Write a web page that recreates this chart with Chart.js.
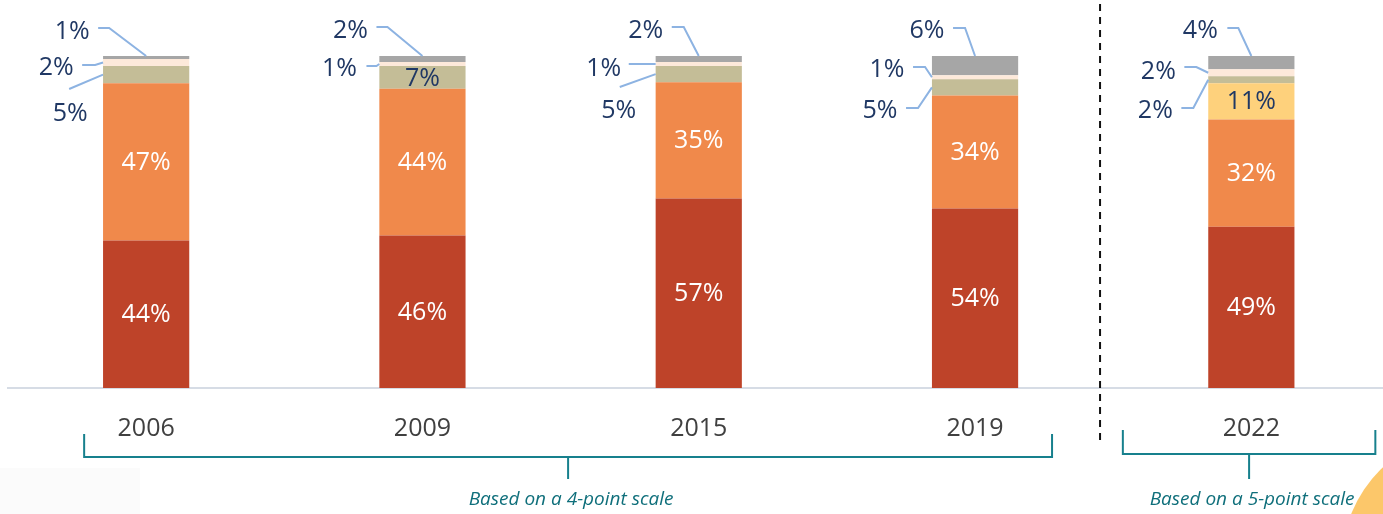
<!DOCTYPE html>
<html>
<head>
<meta charset="utf-8">
<script src="https://cdn.jsdelivr.net/npm/chart.js@4/dist/chart.umd.min.js"></script>
<style>
  html, body { margin: 0; padding: 0; background: #fff; overflow: hidden; }
  #wrap { width: 1392px; height: 514px; }
</style>
</head>
<body>
<div id="wrap"><canvas id="chart" width="1392" height="514"></canvas></div>
<script>
// survey waves
const years = ["2006", "2009", "2015", "2019", "2022"];

// shares per answer group, bottom of the bar to the top (percent)
const redShare = [44.4, 45.9, 57.1, 54.1, 48.6];
const orangeShare = [47.4, 44.2, 35.0, 34.0, 32.3];
const yellowShare = [null, null, null, null, 10.9];
const oliveShare = [5.2, 6.9, 4.9, 4.9, 2.1];
const creamShare = [2.1, 1.2, 1.2, 1.2, 2.1];
const grayShare = [0.9, 1.8, 1.8, 5.8, 4.0];

const FONT = "'Open Sans', 'Noto Sans', sans-serif";
const NAVY = "#203864";
const TEAL = "#17808d";
const LEADER = "#8db3e2";

// labels written inside the segments: [dataset, index or -1 for all, colour]
const insideLabels = [
  [0, -1, "#ffffff"],
  [1, -1, "#ffffff"],
  [2, 4, NAVY],
  [3, 1, NAVY]
];

// small segments labelled beside the bar with a leader line
// dx/dy: text centre from bar centre / bar top; sx/sy: line start from text centre; h: flat part
const callouts = [
  { ds: 5, i: 0, dx: -74, dy: -25, sx: 26, sy: -3, h: 11 },
  { ds: 4, i: 0, dx: -90, dy: 11, sx: 26, sy: -2, h: 13 },
  { ds: 3, i: 0, dx: -76, dy: 57, sx: -1, sy: -24, h: 0 },
  { ds: 5, i: 1, dx: -72, dy: -26, sx: 26, sy: -3, h: 11 },
  { ds: 4, i: 1, dx: -83, dy: 12, sx: 27, sy: -2, h: 10 },
  { ds: 5, i: 2, dx: -53, dy: -26, sx: 26, sy: -3, h: 12 },
  { ds: 4, i: 2, dx: -95, dy: 12, sx: 25, sy: -4, h: 0 },
  { ds: 3, i: 2, dx: -80, dy: 54, sx: 1, sy: -23, h: 0 },
  { ds: 5, i: 3, dx: -48, dy: -26, sx: 26, sy: -2, h: 12 },
  { ds: 4, i: 3, dx: -88, dy: 13, sx: 26, sy: -2, h: 12 },
  { ds: 3, i: 3, dx: -95, dy: 54, sx: 26, sy: -2, h: 12 },
  { ds: 5, i: 4, dx: -51, dy: -26, sx: 27, sy: -2, h: 11 },
  { ds: 4, i: 4, dx: -93, dy: 15, sx: 26, sy: -4, h: 12 },
  { ds: 3, i: 4, dx: -96, dy: 54, sx: 26, sy: -2, h: 12 }
];

const brackets = [
  { from: 0, to: 3, left: -62, right: 77, top: 434, bar: 457, tick: 479, text: "Based on a 4-point scale" },
  { from: 4, to: 4, left: -128.5, right: 124, top: 430, bar: 454, tick: 479, text: "Based on a 5-point scale" }
];

const pct = (v) => Math.round(v) + "%";

const annotate = {
  id: "annotate",
  beforeDraw(chart) {
    const ctx = chart.ctx;
    ctx.save();
    ctx.fillStyle = "#fbfbfb";
    ctx.fillRect(0, 468, 140, 46);
    ctx.fillStyle = "#fcc76a";
    ctx.beginPath();
    ctx.arc(1472, 562, 130, 0, Math.PI * 2);
    ctx.fill();
    ctx.restore();
  },
  afterDatasetsDraw(chart) {
    const ctx = chart.ctx;
    const top = chart.scales.y.getPixelForValue(100);
    const bar = (ds, i) => chart.getDatasetMeta(ds).data[i];
    ctx.save();
    ctx.font = "25px " + FONT;
    ctx.textAlign = "center";
    ctx.textBaseline = "middle";

    insideLabels.forEach(([ds, idx, color]) => {
      const values = chart.data.datasets[ds].data;
      values.forEach((v, i) => {
        if (v == null || (idx !== -1 && idx !== i)) return;
        const el = bar(ds, i);
        ctx.fillStyle = color;
        ctx.fillText(pct(v), el.x, (el.y + el.base) / 2 + 1);
      });
    });

    callouts.forEach((c) => {
      const el = bar(c.ds, c.i);
      const v = chart.data.datasets[c.ds].data[c.i];
      const tx = el.x + c.dx;
      const ty = top + c.dy;
      ctx.fillStyle = NAVY;
      ctx.fillText(pct(v), tx, ty + 1);
      const ax = c.ds === 5 ? el.x : el.x - el.width / 2;
      const ay = c.ds === 5 ? el.y : (el.y + el.base) / 2;
      ctx.strokeStyle = LEADER;
      ctx.lineWidth = 2;
      ctx.beginPath();
      ctx.moveTo(tx + c.sx, ty + c.sy);
      ctx.lineTo(tx + c.sx + c.h, ty + c.sy);
      ctx.lineTo(ax, ay);
      ctx.stroke();
    });

    // dashed divider between the two scales
    const divX = bar(0, 3).x + 125;
    ctx.strokeStyle = "#111111";
    ctx.lineWidth = 2;
    ctx.setLineDash([7, 6]);
    ctx.beginPath();
    ctx.moveTo(divX, 4);
    ctx.lineTo(divX, 442);
    ctx.stroke();
    ctx.setLineDash([]);

    // brackets with notes
    brackets.forEach((b) => {
      const x1 = bar(0, b.from).x + b.left;
      const x2 = bar(0, b.to).x + b.right;
      const mid = (x1 + x2) / 2;
      ctx.strokeStyle = TEAL;
      ctx.lineWidth = 2;
      ctx.beginPath();
      ctx.moveTo(x1, b.top);
      ctx.lineTo(x1, b.bar);
      ctx.lineTo(x2, b.bar);
      ctx.lineTo(x2, b.top);
      ctx.moveTo(mid, b.bar);
      ctx.lineTo(mid, b.tick);
      ctx.stroke();
      ctx.fillStyle = "#0f6f7b";
      ctx.font = "italic 19px " + FONT;
      ctx.fillText(b.text, mid + 3, 500);
    });
    ctx.restore();
  }
};

const makeSet = (label, data, color) => ({
  label, data, backgroundColor: color, borderWidth: 0,
  barPercentage: 0.312, categoryPercentage: 1
});

new Chart(document.getElementById("chart"), {
  type: "bar",
  data: {
    labels: years,
    datasets: [
      makeSet("Red", redShare, "#be4329"),
      makeSet("Orange", orangeShare, "#f0894b"),
      makeSet("Yellow", yellowShare, "#fed17c"),
      makeSet("Olive", oliveShare, "#c4bd97"),
      makeSet("Cream", creamShare, "#fde9da"),
      makeSet("Gray", grayShare, "#a6a6a6")
    ]
  },
  options: {
    responsive: false,
    animation: false,
    devicePixelRatio: 1,
    layout: { padding: { left: 8, right: 2.5, top: 56, bottom: 44 } },
    plugins: { legend: { display: false }, tooltip: { enabled: false } },
    scales: {
      x: {
        stacked: true,
        grid: { display: false, drawTicks: false },
        border: { display: true, color: "#d6dce5", width: 2 },
        ticks: { color: "#404040", font: { family: FONT, size: 25 }, padding: 26 }
      },
      y: { stacked: true, display: false, min: 0, max: 100 }
    }
  },
  plugins: [annotate]
});
</script>
</body>
</html>
